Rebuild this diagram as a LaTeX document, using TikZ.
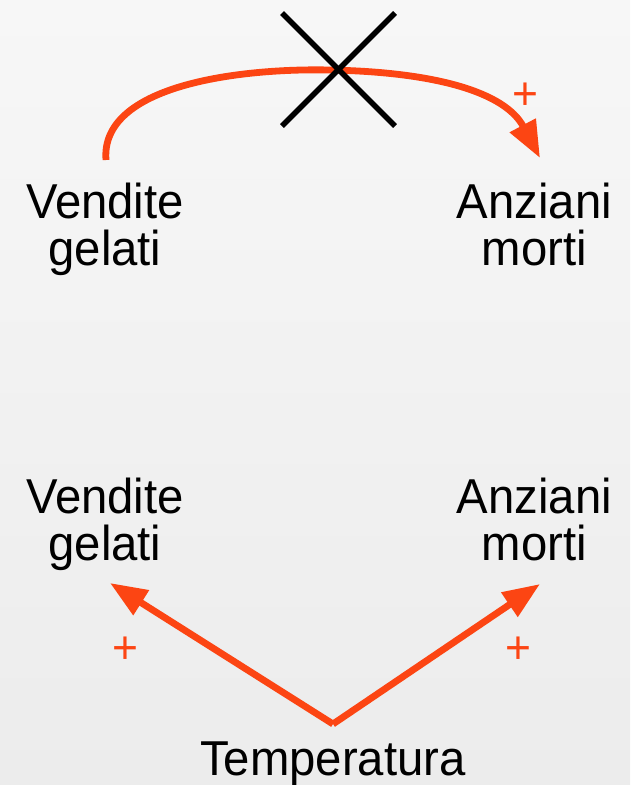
\documentclass[tikz,border=0pt]{standalone}
\usepackage{fontspec}
\setmainfont{Liberation Sans}[FakeStretch=0.965]
\usetikzlibrary{arrows.meta}
\definecolor{cloud}{RGB}{252,69,19}
\definecolor{bgtop}{RGB}{247,247,247}
\definecolor{bgbot}{RGB}{236,236,236}
\tikzset{
  label/.style={align=center, inner sep=0pt, anchor=base,
    font=\fontsize{49}{47}\selectfont},
  sign/.style={inner sep=0pt, anchor=base, text=cloud,
    font=\fontsize{46}{46}\selectfont},
  link/.style={draw=cloud, line width=6.8pt,
    -{Triangle[length=37pt,width=28pt]}},
  cross/.style={draw=black, line width=5.5pt}
}
\begin{document}
\begin{tikzpicture}[x=1pt,y=-1pt]
\useasboundingbox (0,0) rectangle (630,785);
\shade[top color=bgtop, bottom color=bgbot] (0,0) rectangle (630,785);
% top pair (base anchor = baseline of last line)
\node[label] (vg1) at (105,265) {Vendite\\gelati};
\node[label] (am1) at (534.5,265) {Anziani\\morti};
\coordinate (s1) at (106,160);
\coordinate (e1) at (540,158);
\draw[link] (s1) .. controls (100,85) and (240,68) .. (330,70)
  .. controls (435,72) and (505,92) .. (e1);
\node[sign] (p1) at (525,109) {+};
\coordinate (xa) at (282,13);
\coordinate (xb) at (395,126);
\coordinate (xc) at (395,13);
\coordinate (xd) at (282,126);
\draw[cross] (xa) -- (xb);
\draw[cross] (xc) -- (xd);
% bottom group
\node[label] (vg2) at (105,560) {Vendite\\gelati};
\node[label] (am2) at (534.5,560) {Anziani\\morti};
\node[label] (temp) at (333,775) {Temperatura};
\coordinate (apex) at (333,724);
\coordinate (t2) at (110,583);
\coordinate (t3) at (540,584);
\draw[link] (apex) -- (t2);
\draw[link] (apex) -- (t3);
\node[sign] (p2) at (125,663) {+};
\node[sign] (p3) at (518,663) {+};
\end{tikzpicture}
\end{document}
